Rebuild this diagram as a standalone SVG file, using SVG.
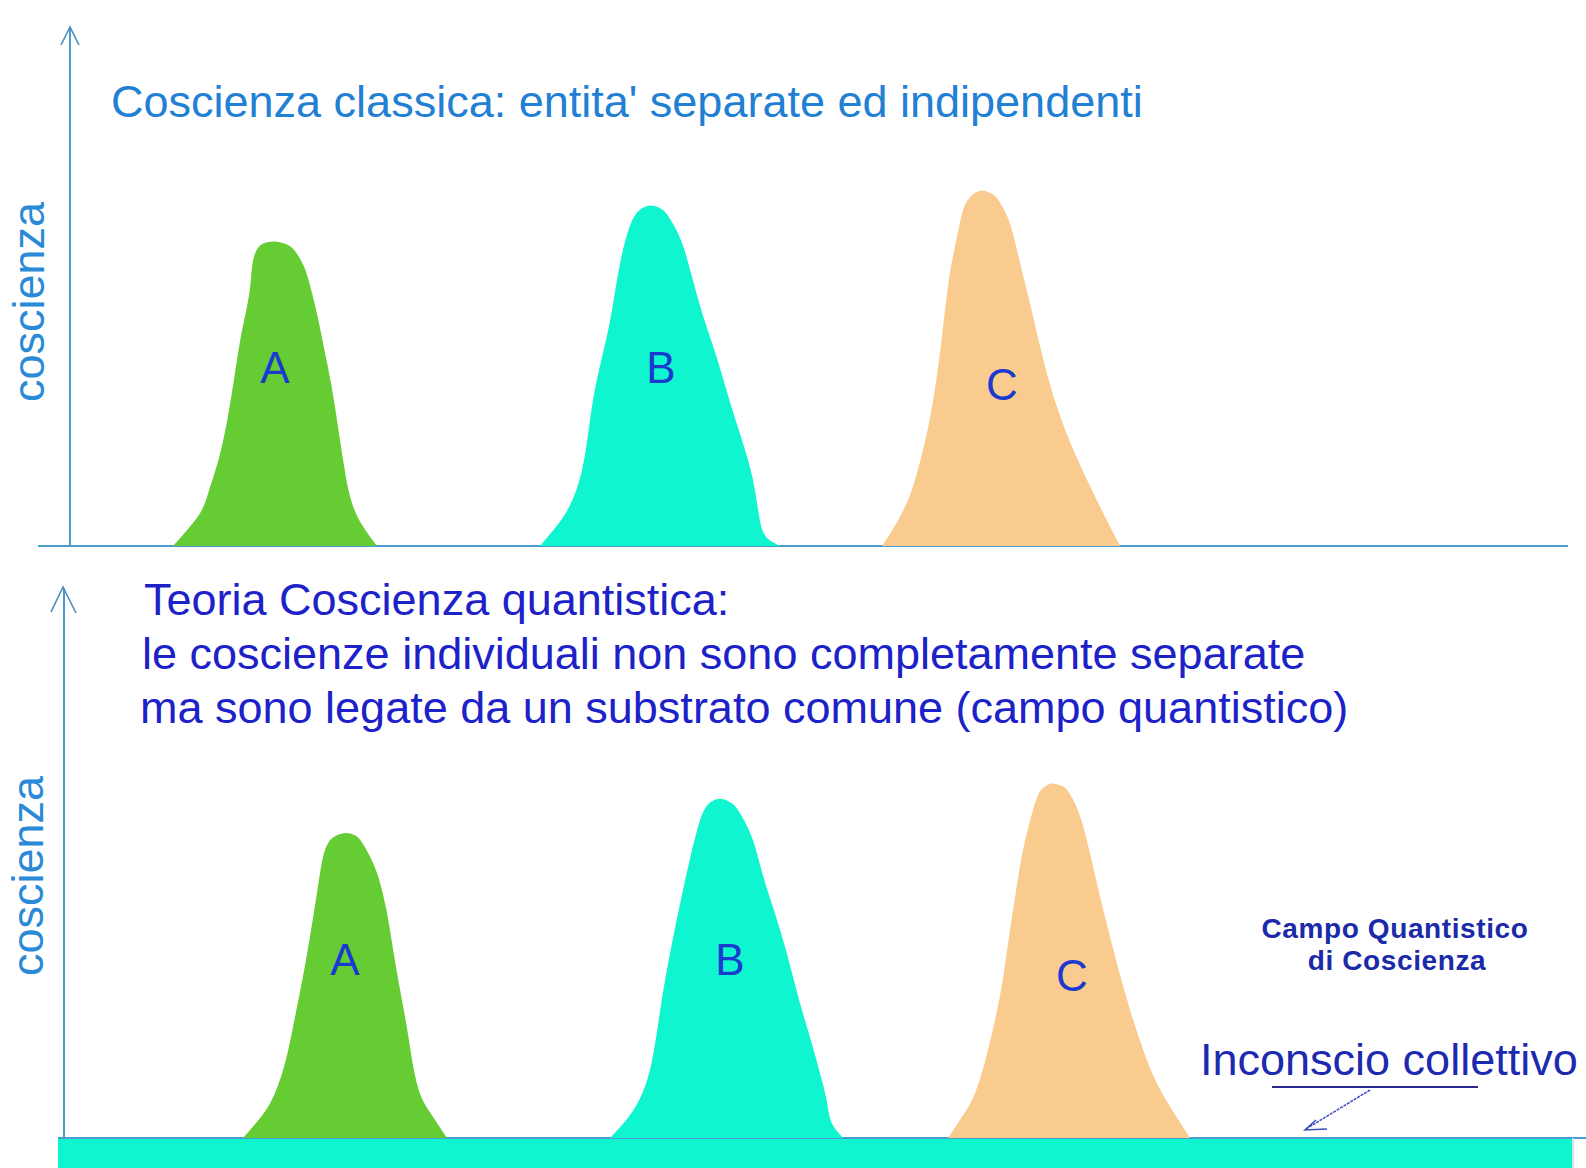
<svg xmlns="http://www.w3.org/2000/svg" width="1586" height="1168" viewBox="0 0 1586 1168">
<style>
.ax{stroke:#4a9ccc;stroke-width:2;fill:none}
.head{stroke:#4a8cb8;stroke-width:1.6;fill:none}
.ga{fill:#66cc33}
.gb{fill:#0ff5cf}
.gc{fill:#facb8e}
.lbl{font-family:"Liberation Sans",Arial,sans-serif;font-size:44px;fill:#1a3ad0;text-anchor:middle}
.t1{font-family:"Liberation Sans",Arial,sans-serif;font-size:45px;fill:#1f80d4}
.t2{font-family:"Liberation Sans",Arial,sans-serif;font-size:45px;fill:#1c22c8}
.vy{font-family:"Liberation Sans",Arial,sans-serif;font-size:45px;fill:#2a8ad8;text-anchor:middle}
.cq{font-family:"Liberation Sans",Arial,sans-serif;font-size:28px;font-weight:bold;fill:#1a2aa8;text-anchor:middle;letter-spacing:0.6px}
.ic{font-family:"Liberation Sans",Arial,sans-serif;font-size:45px;fill:#1c2ab0}
</style>
<rect width="1586" height="1168" fill="#ffffff"/>

<g id="connectors">
  <line class="ax" x1="70" y1="28" x2="70" y2="546"/>
  <polyline class="head" points="61,45 70,27 79,45"/>
  <line class="ax" x1="38" y1="546" x2="1568" y2="546"/>
  <line class="ax" x1="64" y1="588" x2="64" y2="1140"/>
  <polyline class="head" points="51,612 63,587 76,613"/>
  <rect x="58" y="1138" width="1514" height="30" fill="#0ff5cf"/>
  <line class="ax" x1="58" y1="1138" x2="1586" y2="1138"/>
  <line x1="1573" y1="1138" x2="1573" y2="1168" stroke="#c8d8d8" stroke-width="1.5"/>
  <line x1="1272" y1="1087" x2="1478" y2="1087" stroke="#2a2a90" stroke-width="2"/>
  <line x1="1370" y1="1090" x2="1306" y2="1129" stroke="#3a4ac0" stroke-width="1.5" stroke-dasharray="3 1"/>
  <polyline points="1316,1120 1305,1130 1327,1129" fill="none" stroke="#3a4ac0" stroke-width="1.5"/>
</g>

<g id="title-top">
  <text class="t1" x="111" y="117">Coscienza classica: entita' separate ed indipendenti</text>
</g>
<g id="ylabel-top">
  <text class="vy" transform="translate(44,302) rotate(-90)">coscienza</text>
</g>

<g id="peak-A-top">
  <path class="ga" d="M173,546 L181.5,536.5 Q190,527 196.5,518.5 Q203,510 206.5,498.5 Q210,487 214,475 Q218,463 221.5,448 Q225,433 228.5,413 Q232,393 235,373 Q238,353 240,341.5 Q242,330 246,311.5 Q250,293 251,278 Q252,263 254,256.5 Q256,250 259,246.5 Q262,243 268.5,242 Q275,241 281,242.5 Q287,244 290.5,246.5 Q294,249 297.5,254.5 Q301,260 304,266.5 Q307,273 312,293 Q317,313 320,328 Q323,343 327.5,365 Q332,387 335,407 Q338,427 340.5,443.5 Q343,460 345.5,475 Q348,490 351.5,501.5 Q355,513 360,521.5 Q365,530 371,538 L377,546 Z"/>
  <text class="lbl" x="275" y="383">A</text>
</g>
<g id="peak-B-top">
  <path class="gb" d="M540,546 L551,533 Q562,520 567.5,510 Q573,500 577.5,486.5 Q582,473 584.5,458 Q587,443 590,420 Q593,397 597.5,377 Q602,357 606,340 Q610,323 614,298 Q618,273 621.5,256.5 Q625,240 629,228.5 Q633,217 637,212.5 Q641,208 645.5,206.5 Q650,205 654.5,206 Q659,207 663,210 Q667,213 674.5,226.5 Q682,240 687,258.5 Q692,277 697.5,297 Q703,317 710,337 Q717,357 723.5,380 Q730,403 736.5,423 Q743,443 748,460 Q753,477 755.5,493.5 Q758,510 760.5,523.5 Q763,537 771.5,541.5 L780,546 Z"/>
  <text class="lbl" x="661" y="383">B</text>
</g>
<g id="peak-C-top">
  <path class="gc" d="M882,546 L889.5,534.5 Q897,523 903.5,510 Q910,497 915,480 Q920,463 925,441.5 Q930,420 934,395 Q938,370 941.5,340 Q945,310 947.5,290 Q950,270 953.5,253.5 Q957,237 959.5,224.5 Q962,212 964.5,206 Q967,200 971,196 Q975,192 979,191 Q983,190 987,191.5 Q991,193 994,195 Q997,197 1003.5,208.5 Q1010,220 1015,241.5 Q1020,263 1025,283 Q1030,303 1035,325 Q1040,347 1046.5,372 Q1053,397 1061.5,420 Q1070,443 1078.5,461.5 Q1087,480 1095,496.5 Q1103,513 1111.5,529.5 L1120,546 Z"/>
  <text class="lbl" x="1002" y="400">C</text>
</g>

<g id="title-bottom">
  <text class="t2" x="144" y="615">Teoria Coscienza quantistica:</text>
  <text class="t2" x="142" y="669">le coscienze individuali non sono completamente separate</text>
  <text class="t2" x="140" y="723">ma sono legate da un substrato comune (campo quantistico)</text>
</g>
<g id="ylabel-bottom">
  <text class="vy" transform="translate(43,876) rotate(-90)">coscienza</text>
</g>

<g id="peak-A-bottom">
  <path class="ga" d="M243,1138 L246.5,1134 Q250,1130 258.5,1120 Q267,1110 272.5,1098.5 Q278,1087 282.5,1072 Q287,1057 291,1037 Q295,1017 299,997 Q303,977 306.5,957 Q310,937 313.5,915 Q317,893 319.5,876.5 Q322,860 324,853 Q326,846 329,841.5 Q332,837 338.5,834.5 Q345,832 350.5,833.5 Q356,835 359.5,839 Q363,843 370,856.5 Q377,870 382,890 Q387,910 390,930 Q393,950 396.5,970 Q400,990 403.5,1008.5 Q407,1027 410,1047 Q413,1067 416.5,1082 Q420,1097 426.5,1107 Q433,1117 440,1127.5 L447,1138 Z"/>
  <text class="lbl" x="345" y="975">A</text>
</g>
<g id="peak-B-bottom">
  <path class="gb" d="M610,1138 L618.5,1129 Q627,1120 633.5,1110 Q640,1100 645,1086.5 Q650,1073 653.5,1053 Q657,1033 659.5,1015 Q662,997 666,975 Q670,953 674,933 Q678,913 683,890 Q688,867 691.5,852 Q695,837 699,823.5 Q703,810 707,805.5 Q711,801 715.5,799.5 Q720,798 724.5,799.5 Q729,801 733,804 Q737,807 745,822 Q753,837 758,857 Q763,877 769,895 Q775,913 781,933 Q787,953 792.5,975 Q798,997 804,1017 Q810,1037 815,1055 Q820,1073 823.5,1086.5 Q827,1100 828.5,1111.5 Q830,1123 836.5,1130.5 L843,1138 Z"/>
  <text class="lbl" x="730" y="975">B</text>
</g>
<g id="peak-C-bottom">
  <path class="gc" d="M948,1138 L954,1129 Q960,1120 966.5,1110 Q973,1100 978,1085 Q983,1070 988,1050 Q993,1030 997.5,1008.5 Q1002,987 1005,965 Q1008,943 1011.5,920 Q1015,897 1018.5,875 Q1022,853 1026,836.5 Q1030,820 1034,806.5 Q1038,793 1041.5,789.5 Q1045,786 1048.5,784.5 Q1052,783 1056,784 Q1060,785 1063.5,786.5 Q1067,788 1073.5,800.5 Q1080,813 1085,833 Q1090,853 1095,875 Q1100,897 1105,917 Q1110,937 1116,960 Q1122,983 1129.5,1008 Q1137,1033 1145,1055 Q1153,1077 1161.5,1092 Q1170,1107 1176.5,1117 Q1183,1127 1186.5,1132.5 L1190,1138 Z"/>
  <text class="lbl" x="1072" y="991">C</text>
</g>

<g id="label-campo">
  <text class="cq" x="1395" y="938">Campo Quantistico</text>
  <text class="cq" x="1397" y="970">di Coscienza</text>
</g>
<g id="label-inconscio">
  <text class="ic" x="1200" y="1075">Inconscio collettivo</text>
</g>
</svg>
